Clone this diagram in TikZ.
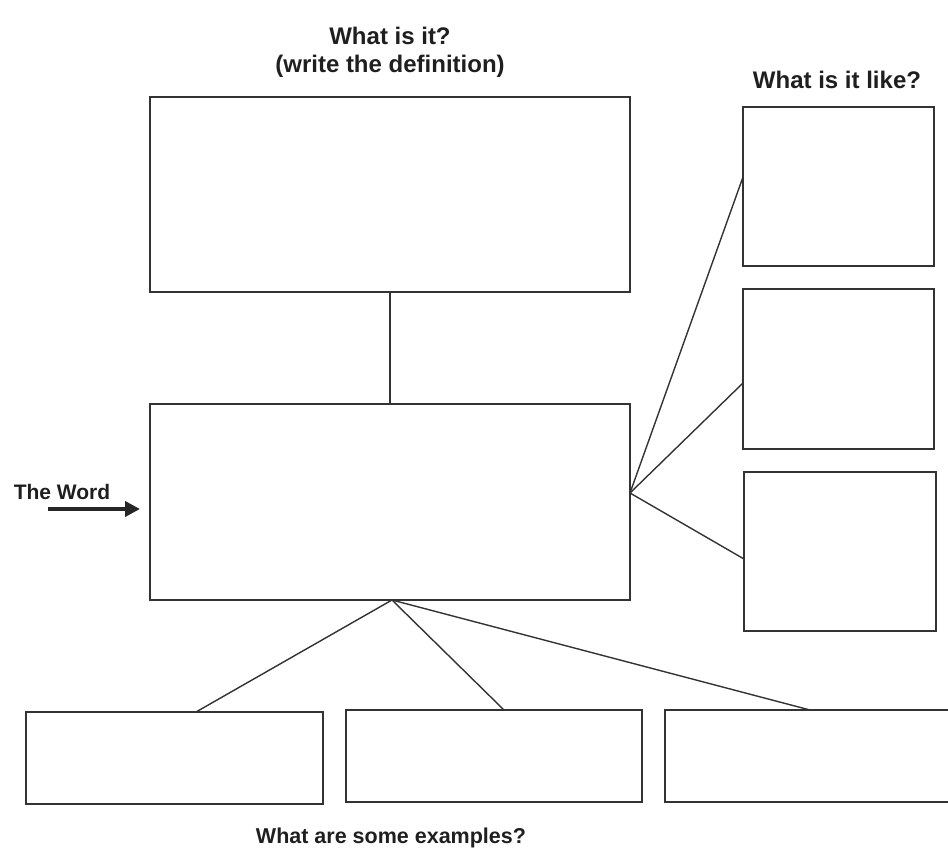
\documentclass[tikz,border=0pt]{standalone}
\usepackage{fontspec}
\setmainfont{Liberation Sans}
\usetikzlibrary{arrows.meta}
\begin{document}
\begin{tikzpicture}[x=1pt,y=-1pt,
  box/.style={draw=black!80,line width=1.6pt,inner sep=0pt,outer sep=0pt,rectangle},
  link/.style={draw=black!80,line width=1.4pt},
  head/.style={inner sep=0pt,anchor=base,text=black!88,font=\bfseries\fontsize{24}{27}\selectfont},
  foot/.style={inner sep=0pt,anchor=base,text=black!88,font=\bfseries\fontsize{21.5}{24}\selectfont},
  small/.style={inner sep=0pt,anchor=base,text=black!88,font=\bfseries\fontsize{21}{24}\selectfont}]
\useasboundingbox (0,0) rectangle (948,856);
% boxes
\node[box,minimum width=480pt,minimum height=195pt] (top) at (390,194.5) {};
\node[box,minimum width=480pt,minimum height=196pt] (mid) at (390,502) {};
\node[box,minimum width=191pt,minimum height=159pt] (r1) at (838.5,186.5) {};
\node[box,minimum width=191pt,minimum height=160pt] (r2) at (838.5,369) {};
\node[box,minimum width=192pt,minimum height=159pt] (r3) at (840,551.5) {};
\node[box,minimum width=297pt,minimum height=92pt] (b1) at (174.5,758) {};
\node[box,minimum width=296pt,minimum height=92pt] (b2) at (494,756) {};
\node[box,minimum width=296pt,minimum height=92pt] (b3) at (813,756) {};
% connectors
\draw[link] (top.south) -- (mid.north);
\draw[link] ([yshift=9pt]mid.east) -- ([yshift=9.5pt]r1.west);
\draw[link] ([yshift=9pt]mid.east) -- ([yshift=-14pt]r2.west);
\draw[link] ([yshift=9pt]mid.east) -- ([yshift=-7.5pt]r3.west);
\draw[link] ([xshift=2pt]mid.south) -- ([xshift=21.5pt]b1.north);
\draw[link] ([xshift=2pt]mid.south) -- ([xshift=10pt]b2.north);
\draw[link] ([xshift=2pt]mid.south) -- ([xshift=-3pt]b3.north);
% labels
\node[head] (t1) at (390,45) {What is it?};
\node[head] (t2) at (390,73) {(write the definition)};
\node[head] (t3) at (837,89) {What is it like?};
\node[small] (tw) at (62,499) {The Word};
\node[foot] (t4) at (391,843) {What are some examples?};
\coordinate (as) at (48,509);
\coordinate (ae) at (140,509);
\draw[draw=black!85,line width=4.5pt,-{Triangle[length=15pt,width=15pt]}] (as) -- (ae);
\end{tikzpicture}
\end{document}
